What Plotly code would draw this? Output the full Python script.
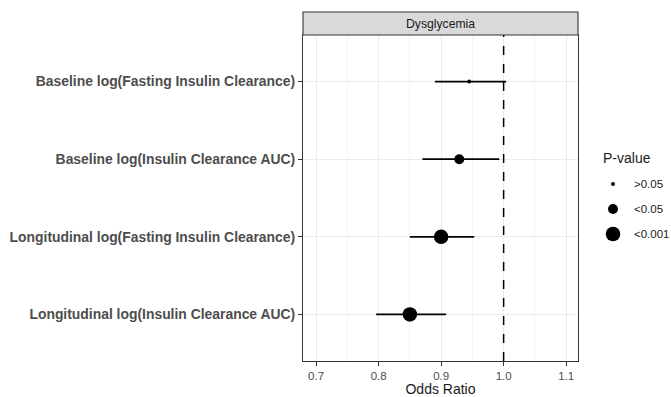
import plotly.graph_objects as go

categories = [
    "Baseline log(Fasting Insulin Clearance)",
    "Baseline log(Insulin Clearance AUC)",
    "Longitudinal log(Fasting Insulin Clearance)",
    "Longitudinal log(Insulin Clearance AUC)",
]
odds_ratio = [0.945, 0.929, 0.900, 0.850]
ci_low = [0.890, 0.870, 0.850, 0.796]
ci_high = [1.004, 0.993, 0.953, 0.908]
p_group = [">0.05", "<0.05", "<0.001", "<0.001"]
p_levels = [">0.05", "<0.05", "<0.001"]
p_sizes = [4, 10, 14.5]
x_ticks = [0.7, 0.8, 0.9, 1.0, 1.1]
facet_label = "Dysglycemia"
legend_title = "P-value"

W, H = 671, 397
L, T = 303, 35
R = W - 578
B = H - 361
plot_w = W - L - R
plot_h = H - T - B


def px_x(page_x):
    return (page_x - L) / plot_w


def px_y(page_y):
    return 1 - (page_y - T) / plot_h


fig = go.Figure()

# CI lines
xs, ys = [], []
for c, lo, hi in zip(categories, ci_low, ci_high):
    xs += [lo, hi, None]
    ys += [c, c, None]
fig.add_trace(go.Scatter(x=xs, y=ys, mode="lines", line=dict(color="black", width=1.8),
                         showlegend=False, hoverinfo="skip"))

for lev, sz in zip(p_levels, p_sizes):
    px = [o for o, g in zip(odds_ratio, p_group) if g == lev]
    py = [c for c, g in zip(categories, p_group) if g == lev]
    fig.add_trace(go.Scatter(x=px if px else [None], y=py if py else [None], mode="markers",
                             name=lev, showlegend=False,
                             marker=dict(color="black", size=sz, line=dict(width=0))))

fig.add_shape(type="line", x0=1.0, x1=1.0, y0=0, y1=1, xref="x", yref="paper",
              line=dict(color="black", width=1.5, dash="dash"))

# facet strip
strip_h = 23 / plot_h
fig.add_shape(type="rect", xref="paper", yref="paper", x0=0, x1=1, y0=1, y1=1 + strip_h,
              fillcolor="#D9D9D9", line=dict(color="#333333", width=1.1))
fig.add_annotation(text=facet_label, xref="paper", yref="paper", x=0.5, y=1 + strip_h / 2,
                   yanchor="middle", showarrow=False,
                   font=dict(size=12.2, color="#1A1A1A", family="Liberation Sans, Arial"))

# legend (drawn manually so it fits the page)
fig.add_annotation(text=legend_title, xref="paper", yref="paper", x=px_x(601), y=px_y(158),
                   xanchor="left", yanchor="middle", showarrow=False,
                   font=dict(size=14, color="#1A1A1A"))
leg_ys = [184, 209, 234]
for lev, sz, ly in zip(p_levels, p_sizes, leg_ys):
    r = sz / 2
    fig.add_shape(type="circle", xref="paper", yref="paper",
                  xsizemode="pixel", ysizemode="pixel",
                  xanchor=px_x(613), yanchor=px_y(ly),
                  x0=-r, x1=r, y0=-r, y1=r,
                  fillcolor="black", line=dict(width=0))
    fig.add_annotation(text=lev, xref="paper", yref="paper", x=px_x(632), y=px_y(ly),
                       xanchor="left", yanchor="middle", showarrow=False,
                       font=dict(size=11.5, color="#1A1A1A"))

fig.update_layout(
    width=W, height=H,
    margin=dict(l=L, r=R, t=T, b=B, pad=0, autoexpand=False),
    plot_bgcolor="white", paper_bgcolor="white",
    showlegend=False,
    font=dict(family="Liberation Sans, Arial", color="#4D4D4D"),
    xaxis=dict(range=[0.679, 1.119], tickvals=x_ticks, ticktext=[f"{v:.1f}" for v in x_ticks],
               showgrid=True, gridcolor="#EBEBEB", gridwidth=1.1,
               minor=dict(dtick=0.05, showgrid=True, gridcolor="#F3F3F3", gridwidth=0.6),
               ticks="outside", ticklen=4, tickcolor="#333333",
               tickfont=dict(size=11.5, color="#4D4D4D"),
               title=dict(text="Odds Ratio", font=dict(size=14, color="#1A1A1A"), standoff=6),
               showline=True, linecolor="#333333", linewidth=1.1, mirror=True, zeroline=False),
    yaxis=dict(categoryorder="array", categoryarray=categories[::-1],
               range=[-0.6, 3.6],
               showgrid=True, gridcolor="#EBEBEB", gridwidth=1.1,
               ticks="outside", ticklen=4, tickcolor="#333333",
               tickfont=dict(size=13.9, color="#4D4D4D", family="Liberation Sans, Arial", weight="bold"),
               showline=True, linecolor="#333333", linewidth=1.1, mirror=True, zeroline=False),
)

fig.write_html("out.html", config={"displayModeBar": False},
               post_script="document.body.style.margin='0';document.body.style.overflow='hidden';")
